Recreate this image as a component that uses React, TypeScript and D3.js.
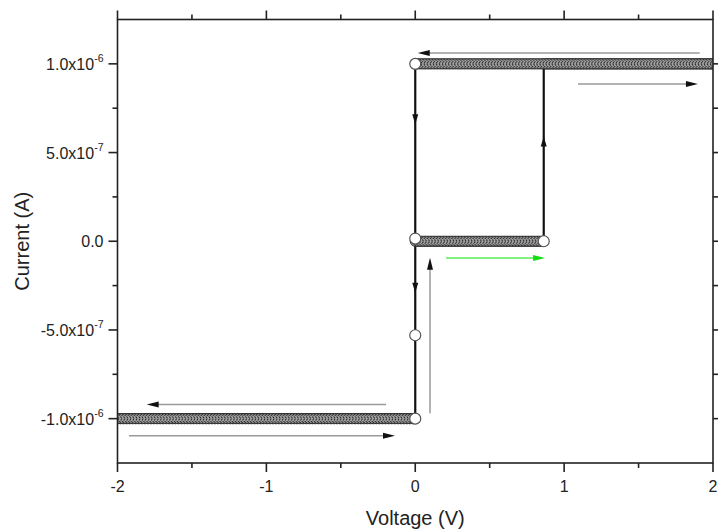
import React from 'react';
import * as d3 from 'd3';

// Canvas and plot frame
const W = 718;
const H = 529;
const frame = { left: 117.5, right: 713, top: 19.5, bottom: 463 };

// Axes
const xDomain: [number, number] = [-2, 2];
const yDomain: [number, number] = [-1.25e-6, 1.25e-6];
const xMajorTicks = [-2, -1, 0, 1, 2];
const xTickLabels = ['-2', '-1', '0', '1', '2'];
const xMinorTicks = [-1.5, -0.5, 0.5, 1.5];
const yMajorTicks = [-1e-6, -5e-7, 0, 5e-7, 1e-6];
const yTickMantissa = ['-1.0x10', '-5.0x10', '0.0', '5.0x10', '1.0x10'];
const yTickExponent = ['-6', '-7', '', '-7', '-6'];
const yMinorTicks = [-7.5e-7, -2.5e-7, 2.5e-7, 7.5e-7];

// Voltage sweeps at constant (compliance-limited) current, in measurement order
const sweepStep = 0.01;
const sweepStart = [0, 0.86, 2, 0, -2];
const sweepEnd = [0.86, 2, 0, -2, 0];
const sweepCurrent = [0, 1e-6, 1e-6, -1e-6, -1e-6];

// Trace turning points (V, A)
const traceV = [0, 0.863, 0.863, 2, 0, 0, 0, -2, 0, 0];
const traceI = [1.5e-8, 0, 1e-6, 1e-6, 1e-6, -5.3e-7, -1e-6, -1e-6, -1e-6, 1.5e-8];

// Switching points shown as open circles
const switchV = [0, 0, 0, 0, 0.863];
const switchI = [1e-6, 1.5e-8, -5.3e-7, -1e-6, 0];

// Direction marks on the switching segments (+1 up, -1 down)
const dirV = [0, 0, 0.863];
const dirI = [0.66e-6, -0.29e-6, 0.59e-6];
const dirSign = [-1, -1, 1];

// Sweep-direction arrows (start -> tip)
const annV0 = [1.911, 1.093, 0.207, 0.099, -0.196, -1.923];
const annV1 = [0.017, 1.899, 0.872, 0.099, -1.804, -0.136];
const annI0 = [1.061e-6, 0.886e-6, -0.094e-6, -0.969e-6, -0.92e-6, -1.097e-6];
const annI1 = [1.061e-6, 0.886e-6, -0.094e-6, -0.093e-6, -0.92e-6, -1.097e-6];
const annLine = ['#9a9a9a', '#9a9a9a', '#55ee55', '#9a9a9a', '#9a9a9a', '#9a9a9a'];
const annHead = ['#111', '#111', '#11dd11', '#111', '#111', '#111'];

const FONT = "'Liberation Sans', Arial, Helvetica, sans-serif";

export default function App() {
  const x = d3.scaleLinear().domain(xDomain).range([frame.left, frame.right]);
  const y = d3.scaleLinear().domain(yDomain).range([frame.bottom, frame.top]);

  // measured points along each sweep
  const points: [number, number][] = [];
  sweepStart.forEach((v0, k) => {
    const v1 = sweepEnd[k];
    const n = Math.round(Math.abs(v1 - v0) / sweepStep);
    d3.range(n + 1).forEach((j) => {
      points.push([v0 + ((v1 - v0) * j) / n, sweepCurrent[k]]);
    });
  });

  const line = d3
    .line<number>()
    .x((i) => x(traceV[i]))
    .y((i) => y(traceI[i]));
  const tracePath = line(d3.range(traceV.length)) || '';

  const axisStroke = '#222';
  const major = 9;
  const minor = 5;

  const arrowHead = (tx: number, ty: number, angle: number, len: number, half: number) => {
    const c = Math.cos(angle);
    const s = Math.sin(angle);
    const bx = tx - c * len;
    const by = ty - s * len;
    return `M${tx},${ty}L${bx - s * half},${by + c * half}L${bx + s * half},${by - c * half}Z`;
  };

  return (
    <svg
      width={W}
      height={H}
      style={{ position: 'absolute', left: 0, top: 0, background: '#fff' }}
      fontFamily={FONT}
    >
      <defs>
        <clipPath id="plotArea">
          <rect
            x={frame.left}
            y={frame.top}
            width={frame.right - frame.left}
            height={frame.bottom - frame.top}
          />
        </clipPath>
      </defs>

      {/* sweep-direction arrows */}
      {annV0.map((v0, k) => {
        const x0 = x(v0);
        const y0 = y(annI0[k]);
        const x1 = x(annV1[k]);
        const y1 = y(annI1[k]);
        const ang = Math.atan2(y1 - y0, x1 - x0);
        const len = 12;
        return (
          <g key={`ann${k}`}>
            <line
              x1={x0}
              y1={y0}
              x2={x1 - Math.cos(ang) * len * 0.6}
              y2={y1 - Math.sin(ang) * len * 0.6}
              stroke={annLine[k]}
              strokeWidth={1.5}
            />
            <path d={arrowHead(x1, y1, ang, len, 3)} fill={annHead[k]} />
          </g>
        );
      })}

      <g clipPath="url(#plotArea)">
        <path d={tracePath} fill="none" stroke="#111" strokeWidth={2.2} />
        {points.map((p, k) => (
          <circle
            key={`p${k}`}
            cx={x(p[0])}
            cy={y(p[1])}
            r={5}
            fill="#fff"
            stroke="#2a2a2a"
            strokeWidth={1}
          />
        ))}
        {switchV.map((v, k) => (
          <circle
            key={`s${k}`}
            cx={x(v)}
            cy={y(switchI[k])}
            r={5.5}
            fill="#fff"
            stroke="#555"
            strokeWidth={1.2}
          />
        ))}
        {dirV.map((v, k) => {
          const cx = x(v);
          const cy = y(dirI[k]);
          const ang = dirSign[k] > 0 ? -Math.PI / 2 : Math.PI / 2;
          return <path key={`d${k}`} d={arrowHead(cx, cy, ang, 10, 3)} fill="#111" />;
        })}
      </g>

      {/* frame */}
      <rect
        x={frame.left}
        y={frame.top}
        width={frame.right - frame.left}
        height={frame.bottom - frame.top}
        fill="none"
        stroke={axisStroke}
        strokeWidth={1.6}
      />

      {/* x ticks: bottom and top */}
      {xMajorTicks.map((t) => (
        <g key={`xm${t}`}>
          <line x1={x(t)} x2={x(t)} y1={frame.bottom} y2={frame.bottom + major} stroke={axisStroke} strokeWidth={1.6} />
          <line x1={x(t)} x2={x(t)} y1={frame.top} y2={frame.top - major} stroke={axisStroke} strokeWidth={1.6} />
        </g>
      ))}
      {xMinorTicks.map((t) => (
        <g key={`xn${t}`}>
          <line x1={x(t)} x2={x(t)} y1={frame.bottom} y2={frame.bottom + minor} stroke={axisStroke} strokeWidth={1.6} />
          <line x1={x(t)} x2={x(t)} y1={frame.top} y2={frame.top - minor} stroke={axisStroke} strokeWidth={1.6} />
        </g>
      ))}
      {xMajorTicks.map((t, k) => (
        <text
          key={`xl${t}`}
          x={x(t)}
          y={frame.bottom + 29}
          textAnchor="middle"
          fontSize={16}
          fill="#222"
        >
          {xTickLabels[k]}
        </text>
      ))}

      {/* y ticks: left and right */}
      {yMajorTicks.map((t) => (
        <g key={`ym${t}`}>
          <line x1={frame.left} x2={frame.left - major} y1={y(t)} y2={y(t)} stroke={axisStroke} strokeWidth={1.6} />
          <line x1={frame.right} x2={frame.right + major} y1={y(t)} y2={y(t)} stroke={axisStroke} strokeWidth={1.6} />
        </g>
      ))}
      {yMinorTicks.map((t) => (
        <g key={`yn${t}`}>
          <line x1={frame.left} x2={frame.left - minor} y1={y(t)} y2={y(t)} stroke={axisStroke} strokeWidth={1.6} />
          <line x1={frame.right} x2={frame.right + minor} y1={y(t)} y2={y(t)} stroke={axisStroke} strokeWidth={1.6} />
        </g>
      ))}
      {yMajorTicks.map((t, k) => (
        <text
          key={`yl${t}`}
          x={frame.left - 14}
          y={y(t) + 6}
          textAnchor="end"
          fontSize={16}
          fill="#222"
        >
          {yTickMantissa[k]}
          {yTickExponent[k] && (
            <tspan fontSize={10.5} dy={-7.5}>
              {yTickExponent[k]}
            </tspan>
          )}
        </text>
      ))}

      {/* axis titles */}
      <text
        x={(frame.left + frame.right) / 2}
        y={H - 4}
        textAnchor="middle"
        fontSize={20}
        fill="#222"
      >
        Voltage (V)
      </text>
      <text
        transform={`translate(29,${(frame.top + frame.bottom) / 2}) rotate(-90)`}
        textAnchor="middle"
        fontSize={20}
        fill="#222"
      >
        Current (A)
      </text>
    </svg>
  );
}
